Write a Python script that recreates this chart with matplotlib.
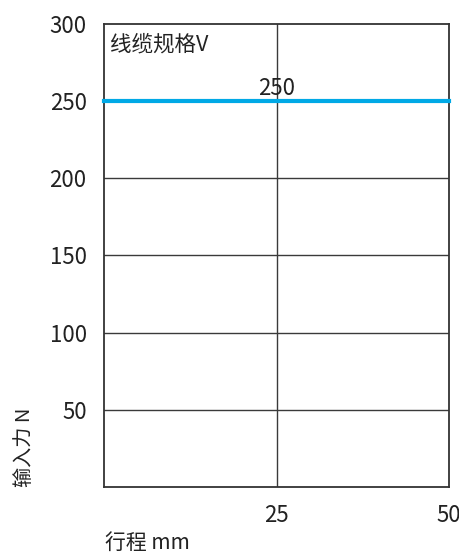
import matplotlib.pyplot as plt

plt.rcParams['font.family'] = ['Noto Sans CJK SC', 'DejaVu Sans']

# 数据
stroke = [0, 50]
force = [250, 250]
x_ticks = [25, 50]
y_ticks = [50, 100, 150, 200, 250, 300]
series_label = '线缆规格V'
value_label = '250'

fig = plt.figure(figsize=(4.59, 5.55), dpi=100)
ax = fig.add_axes([104 / 459, 1 - 487 / 555, 345 / 459, 463 / 555])

ax.set_xlim(0, 50)
ax.set_ylim(0, 300)

# 网格
for yv in y_ticks[:-1]:
    ax.axhline(yv, color='#3a3a3a', lw=1.0, zorder=1)
ax.axvline(25, color='#3a3a3a', lw=1.0, zorder=1)

# 蓝色线
ax.plot(stroke, force, color='#00a9e6', lw=3.0, solid_capstyle='projecting',
        clip_on=False, zorder=3)
ax.text(25, 251, value_label, ha='center', va='bottom', fontsize=16, color='#222222')
ax.text(0.8, 287, series_label, ha='left', va='center', fontsize=15.5, color='#222222')

for s in ax.spines.values():
    s.set_color('#333333')
    s.set_linewidth(1.3)

ax.set_xticks(x_ticks)
ax.set_yticks(y_ticks)
ax.tick_params(length=0, labelsize=16, colors='#222222')
ax.tick_params(axis='y', pad=12.5)
ax.tick_params(axis='x', pad=12)

fig.text(25 / 459, 1 - 487 / 555, '输入力 N', rotation=90, ha='center', va='bottom',
         fontsize=14.5, color='#222222')
fig.text(105 / 459, 1 - 543 / 555, '行程 mm', ha='left', va='center',
         fontsize=15, color='#222222')

fig.savefig('out.png', dpi=100)
